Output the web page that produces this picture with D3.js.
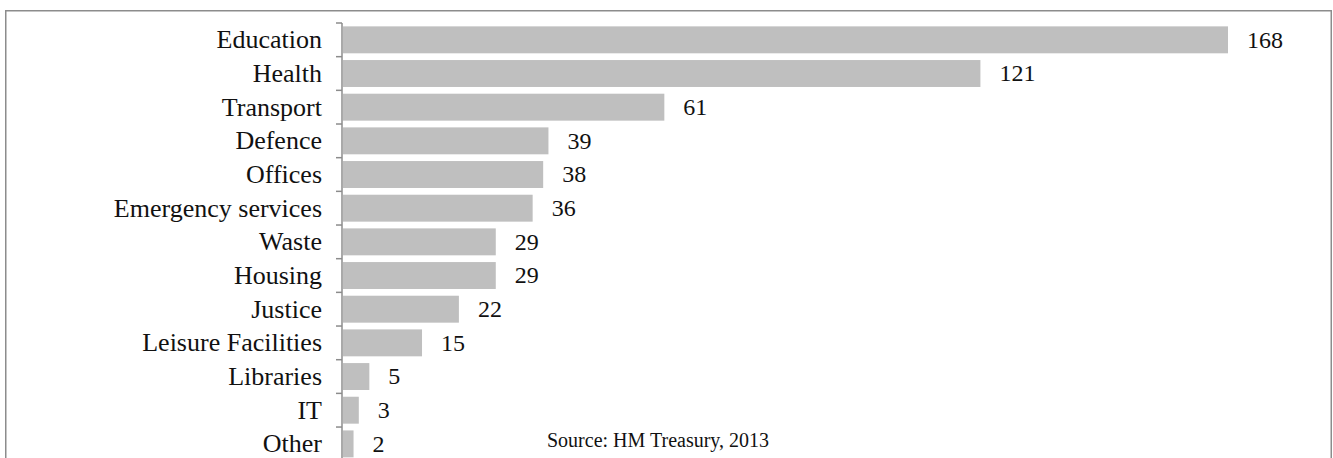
<!DOCTYPE html>
<html>
<head>
<meta charset="utf-8">
<script src="https://cdn.jsdelivr.net/npm/d3@7"></script>
<style>
  body { margin: 0; background: #fff; }
  svg { display: block; }
  svg text { font-family: "Liberation Serif", serif; fill: #111; }
</style>
</head>
<body>
<div id="chart"></div>
<script>
// カテゴリと値 (HM Treasury, 2013)
const categories = ["Education", "Health", "Transport", "Defence", "Offices", "Emergency services",
                    "Waste", "Housing", "Justice", "Leisure Facilities", "Libraries", "IT", "Other"];
const values = [168, 121, 61, 39, 38, 36, 29, 29, 22, 15, 5, 3, 2];
const sourceNote = "Source: HM Treasury, 2013";

const width = 1333;
const height = 458;

const svg = d3.select("#chart")
    .append("svg")
    .attr("width", width)
    .attr("height", height);

// 外枠 (下側は画面外へはみ出す)
svg.append("rect")
    .attr("x", 5.75)
    .attr("y", 10.75)
    .attr("width", 1325.5)
    .attr("height", 470)
    .attr("fill", "none")
    .attr("stroke", "#8c8c8c")
    .attr("stroke-width", 1.5);

// スケール
const x = d3.scaleLinear()
    .domain([0, d3.max(values)])
    .range([343, 1228]);

const y = d3.scaleBand()
    .domain(categories)
    .range([23, 23 + 33.67 * categories.length])
    .paddingInner(0.2)
    .paddingOuter(0.1);

// 棒
svg.selectAll("rect.bar")
    .data(values)
    .enter()
    .append("rect")
    .attr("class", "bar")
    .attr("x", x(0))
    .attr("y", (d, i) => y(categories[i]))
    .attr("width", d => x(d) - x(0))
    .attr("height", y.bandwidth())
    .attr("fill", "#bfbfbf");

// 縦軸の線と目盛り
svg.append("line")
    .attr("x1", 342).attr("x2", 342)
    .attr("y1", y.range()[0]).attr("y2", height)
    .attr("stroke", "#8c8c8c")
    .attr("stroke-width", 1.5);

svg.selectAll("line.tick")
    .data(d3.range(categories.length + 1))
    .enter()
    .append("line")
    .attr("class", "tick")
    .attr("x1", 336).attr("x2", 342)
    .attr("y1", i => y.range()[0] + i * y.step())
    .attr("y2", i => y.range()[0] + i * y.step())
    .attr("stroke", "#8c8c8c")
    .attr("stroke-width", 1.5);

// カテゴリ名
svg.selectAll("text.cat")
    .data(categories)
    .enter()
    .append("text")
    .attr("class", "cat")
    .attr("x", 322)
    .attr("y", d => y(d) + y.bandwidth() / 2)
    .attr("dy", "0.33em")
    .attr("text-anchor", "end")
    .attr("font-size", "26px")
    .text(d => d);

// 値ラベル
svg.selectAll("text.val")
    .data(values)
    .enter()
    .append("text")
    .attr("class", "val")
    .attr("x", d => x(d) + 19)
    .attr("y", (d, i) => y(categories[i]) + y.bandwidth() / 2)
    .attr("dy", "0.33em")
    .attr("font-size", "24px")
    .text(d => d);

// 出典
svg.append("text")
    .attr("x", 547)
    .attr("y", 447)
    .attr("font-size", "20px")
    .text(sourceNote);
</script>
</body>
</html>
